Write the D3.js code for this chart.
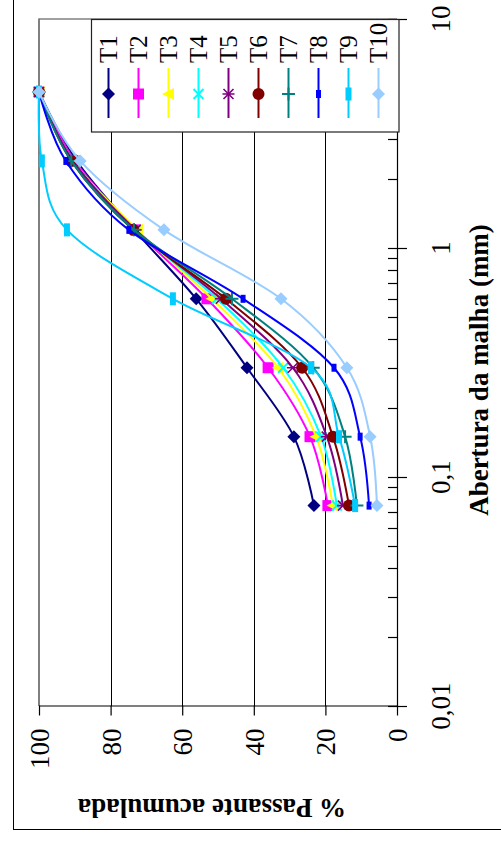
<!DOCTYPE html>
<html><head><meta charset="utf-8">
<script src="https://cdn.jsdelivr.net/npm/d3@7"></script>
<style>body{margin:0;background:#fff} svg{display:block}</style>
</head><body>
<svg id="c" width="501" height="841"></svg>
<script>
// ---------- data ----------
const sieves = [4.8, 2.4, 1.2, 0.6, 0.3, 0.15, 0.075];
const seriesNames = ["T1","T2","T3","T4","T5","T6","T7","T8","T9","T10"];
const T1  = [100, 89.5, 73.4, 56.1, 41.9, 28.8, 23.2];
const T2  = [100, 90.0, 73.0, 53.1, 36.0, 24.3, 19.3];
const T3  = [100, 90.5, 72.5, 51.7, 33.2, 22.6, 17.9];
const T4  = [100, 90.5, 73.0, 50.3, 31.8, 21.2, 16.8];
const T5  = [100, 90.5, 73.0, 49.2, 29.1, 19.6, 15.1];
const T6  = [100, 91.0, 73.7, 47.8, 26.5, 17.9, 13.4];
const T7  = [100, 91.0, 73.5, 46.1, 23.4, 14.5, 11.2];
const T8  = [100, 92.5, 74.9, 43.0, 17.6, 10.3, 7.8];
const T9  = [100, 99.2, 92.2, 62.6, 24.0, 16.2, 11.7];
const T10 = [100, 88.5, 65.1, 32.4, 14.0, 7.5, 5.6];
const seriesValues = [T1,T2,T3,T4,T5,T6,T7,T8,T9,T10];
const seriesColors = ["#000080","#ff00ff","#ffff00","#00ffff","#800080","#800000","#008080","#0000ff","#00ccff","#99ccff"];
const seriesMarkers = ["diamond","square","triangle","x","star","circle","plus","smallsquare","bar","diamond"];
const valueTicks = [0, 20, 40, 60, 80, 100];
const gridValues = [20, 40, 60, 80];
const sizeTicks = [0.01, 0.1, 1, 10];
const sizeTickLabels = ["0,01", "0,1", "1", "10"];
const valueTitle = "% Passante acumulada";
const sizeTitle = "Abertura da malha (mm)";

// ---------- drawing ----------
const svg = d3.select("#c");
const FONT = "'Liberation Serif','Times New Roman',serif";
const x = d3.scaleLinear().domain([0, 100]).range([397, 39]);
const y = d3.scaleLog().domain([0.01, 10]).range([706, 19]);

// outer frame
svg.append("rect").attr("x", 13.5).attr("y", -10).attr("width", 600).attr("height", 839.5)
  .attr("fill", "none").attr("stroke", "#000").attr("stroke-width", 1);

// gridlines
svg.append("g").selectAll("line").data(gridValues).join("line")
  .attr("x1", d => Math.round(x(d)) + 0.5).attr("x2", d => Math.round(x(d)) + 0.5)
  .attr("y1", y(10)).attr("y2", y(0.01))
  .attr("stroke", "#000").attr("stroke-width", 1);

// plot area border (grey)
svg.append("line").attr("x1", 39).attr("x2", 39).attr("y1", 18.5).attr("y2", 706)
  .attr("stroke", "#808080").attr("stroke-width", 2);
svg.append("line").attr("x1", 39).attr("x2", 397).attr("y1", 19).attr("y2", 19)
  .attr("stroke", "#808080").attr("stroke-width", 1.5);

// value axis (bottom of picture)
const vAxis = d3.axisBottom(x).tickValues(valueTicks).tickSize(10).tickSizeOuter(0).tickFormat(d3.format("d"));
const vg = svg.append("g").attr("transform", "translate(0,705.5)").call(vAxis);
vg.select(".domain").attr("stroke", "#000").attr("stroke-width", 1.2);
vg.selectAll(".tick line").attr("stroke", "#000").attr("stroke-width", 1.2);
vg.selectAll(".tick text")
  .attr("transform", "rotate(-90)").attr("x", -23).attr("y", 0).attr("dy", "0.35em")
  .attr("text-anchor", "end").attr("fill", "#000")
  .style("font-family", FONT).style("font-size", "27px");

// size axis (right side of picture), log scale
const sg = svg.append("g");
sg.append("line").attr("x1", 397.5).attr("x2", 397.5).attr("y1", y(10)).attr("y2", y(0.01))
  .attr("stroke", "#000").attr("stroke-width", 1.2);
const minor = [];
[0.01, 0.1, 1].forEach(dec => { for (let k = 2; k <= 9; k++) minor.push(dec * k); });
sg.selectAll("line.minor").data(minor).join("line").attr("class", "minor")
  .attr("x1", 388).attr("x2", 397.5)
  .attr("y1", d => Math.round(y(d)) + 0.5).attr("y2", d => Math.round(y(d)) + 0.5)
  .attr("stroke", "#000").attr("stroke-width", 1.2);
sg.selectAll("line.major").data(sizeTicks).join("line").attr("class", "major")
  .attr("x1", 388).attr("x2", 407)
  .attr("y1", d => Math.round(y(d)) + 0.5).attr("y2", d => Math.round(y(d)) + 0.5)
  .attr("stroke", "#000").attr("stroke-width", 1.2);
sg.selectAll("text").data(sizeTicks).join("text")
  .attr("transform", d => `translate(441,${y(d)}) rotate(-90)`)
  .attr("text-anchor", "middle").attr("dy", "0.35em")
  .style("font-family", FONT).style("font-size", "27px")
  .text((d, i) => sizeTickLabels[i]);

// axis titles
svg.append("text").attr("transform", "translate(479,370) rotate(-90)")
  .attr("text-anchor", "middle").attr("dy", "0.35em")
  .style("font-family", FONT).style("font-size", "27px").style("font-weight", "bold")
  .text(sizeTitle);
svg.append("text").attr("transform", "translate(212,808) rotate(180)")
  .attr("text-anchor", "middle").attr("dy", "0.35em")
  .style("font-family", FONT).style("font-size", "27px").style("font-weight", "bold")
  .text(valueTitle);

// markers
function marker(g, type, color) {
  switch (type) {
    case "diamond": g.append("path").attr("d", "M0,-6.5L6.5,0L0,6.5L-6.5,0Z").attr("fill", color); break;
    case "square": g.append("rect").attr("x", -5.5).attr("y", -5.5).attr("width", 11).attr("height", 11).attr("fill", color); break;
    case "triangle": g.append("path").attr("d", "M-6.5,0L5.5,-6L5.5,6Z").attr("fill", color); break;
    case "x": g.append("path").attr("d", "M-5,-5L5,5M-5,5L5,-5").attr("stroke", color).attr("stroke-width", 2).attr("fill", "none"); break;
    case "star": g.append("path").attr("d", "M-5,-5L5,5M-5,5L5,-5M-6,0L6,0").attr("stroke", color).attr("stroke-width", 1.6).attr("fill", "none"); break;
    case "circle": g.append("circle").attr("r", 6).attr("fill", color); break;
    case "plus": g.append("path").attr("d", "M-6.5,0L6.5,0M0,-6.5L0,6.5").attr("stroke", color).attr("stroke-width", 2).attr("fill", "none"); break;
    case "smallsquare": g.append("rect").attr("x", -2.5).attr("y", -4).attr("width", 5).attr("height", 8).attr("fill", color); break;
    case "bar": g.append("rect").attr("x", -3).attr("y", -6.5).attr("width", 6).attr("height", 13).attr("fill", color); break;
  }
}

// series
const line = d3.line().x(d => x(d.v)).y(d => y(d.s)).curve(d3.curveCatmullRom.alpha(0));
seriesValues.forEach((vals, i) => {
  const pts = vals.map((v, j) => ({ s: sieves[j], v }));
  const g = svg.append("g");
  g.append("path").datum(pts).attr("d", line).attr("fill", "none")
    .attr("stroke", seriesColors[i]).attr("stroke-width", 2);
  pts.forEach(p => {
    const m = g.append("g").attr("transform", `translate(${x(p.v)},${y(p.s)})`);
    marker(m, seriesMarkers[i], seriesColors[i]);
  });
});

// legend
const lg = svg.append("g");
lg.append("rect").attr("x", 91.5).attr("y", 19.5).attr("width", 307.5).attr("height", 112.5)
  .attr("fill", "#fff").attr("stroke", "#222").attr("stroke-width", 1.2);
seriesNames.forEach((name, i) => {
  const lx = 108.5 + i * 30;
  const eg = lg.append("g");
  eg.append("line").attr("x1", lx).attr("x2", lx).attr("y1", 68).attr("y2", 118)
    .attr("stroke", seriesColors[i]).attr("stroke-width", 2);
  const m = eg.append("g").attr("transform", `translate(${lx},94)`);
  marker(m, seriesMarkers[i], seriesColors[i]);
  eg.append("text").attr("transform", `translate(${lx},63) rotate(-90)`)
    .attr("text-anchor", "start").attr("dy", "0.35em")
    .style("font-family", FONT).style("font-size", "25px").text(name);
});
</script>
</body></html>
